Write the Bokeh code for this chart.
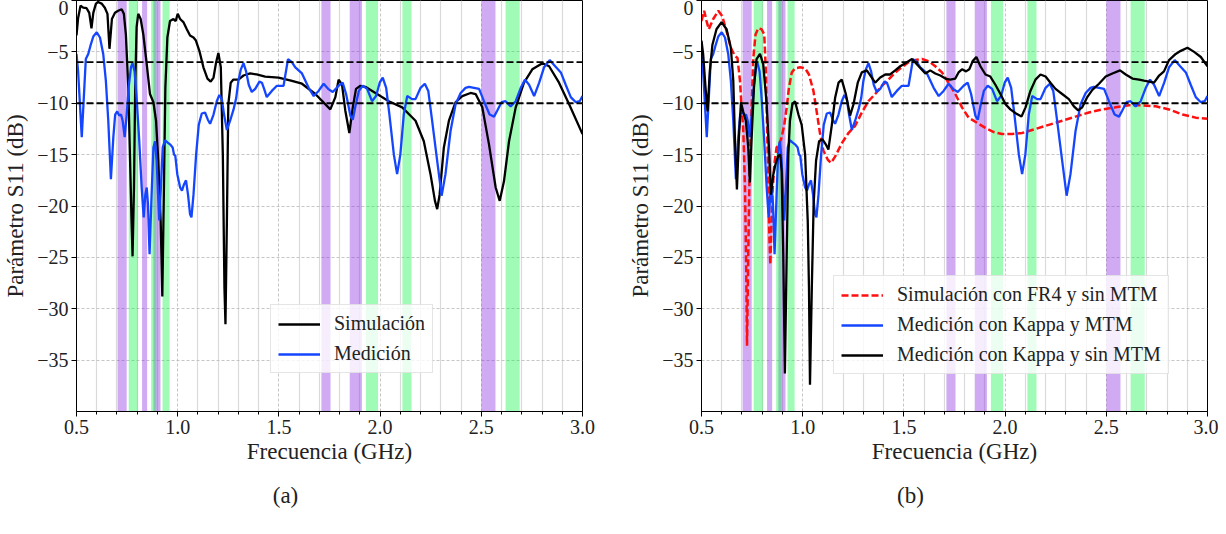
from bokeh.plotting import figure
from bokeh.models import Span, FixedTicker, Range1d, Spacer, LinearAxis
from bokeh.layouts import row, column
from bokeh.core.properties import value
from bokeh.embed import file_html
from bokeh.resources import INLINE

FONT = "Liberation Serif"

# ---------------- data ----------------
# Panel (a): simulation
sim_f = [0.500, 0.508, 0.520, 0.533, 0.550, 0.563, 0.574, 0.583, 0.596, 0.607,
         0.624, 0.640, 0.653, 0.663, 0.675, 0.690, 0.706, 0.723, 0.734, 0.744,
         0.756, 0.764, 0.772, 0.777, 0.784, 0.790, 0.797, 0.805, 0.817, 0.830,
         0.847, 0.863, 0.880, 0.893, 0.904, 0.916, 0.924, 0.932, 0.939, 0.949,
         0.962, 0.979, 0.990, 1.000, 1.012, 1.028, 1.045, 1.061, 1.078, 1.090,
         1.107, 1.127, 1.147, 1.163, 1.177, 1.190, 1.201, 1.213, 1.223, 1.231,
         1.236, 1.243, 1.250, 1.262, 1.275, 1.300, 1.325, 1.358, 1.390, 1.432,
         1.498, 1.560, 1.614, 1.680, 1.754, 1.779, 1.795, 1.812, 1.828, 1.848,
         1.865, 1.881, 1.903, 1.927, 1.977, 2.043, 2.109, 2.175, 2.216, 2.249,
         2.271, 2.282, 2.294, 2.315, 2.340, 2.373, 2.406, 2.447, 2.472, 2.505,
         2.538, 2.571, 2.591, 2.612, 2.637, 2.670, 2.711, 2.752, 2.802, 2.835,
         2.884, 2.934, 3.000]
sim_db = [-3.4, -1.7, -0.5, -0.7, -0.75, -1.2, -2.7, -1.2, -0.3, -0.15,
          -0.3, -0.7, -1.3, -4.7, -1.8, -1.2, -1.0, -0.85, -1.3, -3.3,
          -8.5, -15.0, -21.5, -24.9, -18.2, -8.5, -2.6, -1.3, -1.8, -3.3,
          -6.2, -9.1, -9.9, -11.7, -15.6, -21.5, -28.8, -18.2, -8.5, -3.6,
          -2.0, -1.8, -2.0, -1.3, -1.8, -2.1, -2.8, -3.4, -3.6, -3.9,
          -4.9, -6.5, -7.6, -7.9, -7.5, -6.0, -5.1, -6.5, -15.0, -28.0,
          -31.5, -21.5, -10.1, -8.0, -7.7, -7.7, -7.3, -7.1, -7.2, -7.4,
          -7.5, -7.8, -8.1, -9.1, -10.6, -9.4, -7.7, -8.2, -10.7, -12.9,
          -10.4, -8.6, -8.3, -8.4, -9.0, -9.8, -10.4, -11.7, -13.7, -16.9,
          -19.5, -20.3, -18.9, -14.3, -11.7, -9.9, -9.3, -9.0, -9.1, -10.4,
          -14.0, -18.2, -19.5, -17.6, -13.7, -10.4, -8.0, -6.7, -6.1, -6.4,
          -8.0, -10.1, -13.0]

# Measurement with Kappa and MTM (both panels)
meas_f = [0.500, 0.508, 0.517, 0.526, 0.536, 0.546, 0.558, 0.569, 0.583, 0.600,
          0.616, 0.632, 0.645, 0.657, 0.670, 0.682, 0.691, 0.701, 0.711, 0.720,
          0.728, 0.738, 0.748, 0.759, 0.769, 0.777, 0.787, 0.797, 0.809, 0.822,
          0.832, 0.840, 0.847, 0.853, 0.861, 0.871, 0.880, 0.888, 0.896, 0.903,
          0.909, 0.917, 0.926, 0.937, 0.949, 0.962, 0.975, 0.982, 0.988, 0.998,
          1.012, 1.021, 1.031, 1.041, 1.051, 1.061, 1.068, 1.078, 1.091, 1.104,
          1.119, 1.135, 1.149, 1.160, 1.177, 1.193, 1.206, 1.218, 1.229, 1.243,
          1.259, 1.276, 1.289, 1.300, 1.312, 1.325, 1.338, 1.351, 1.366, 1.383,
          1.404, 1.416, 1.427, 1.440, 1.465, 1.490, 1.523, 1.545, 1.564, 1.581,
          1.614, 1.647, 1.672, 1.696, 1.721, 1.743, 1.766, 1.795, 1.815, 1.832,
          1.853, 1.865, 1.878, 1.895, 1.914, 1.936, 1.960, 1.980, 1.998, 2.013,
          2.030, 2.046, 2.068, 2.084, 2.100, 2.117, 2.134, 2.158, 2.175, 2.200,
          2.221, 2.238, 2.257, 2.282, 2.304, 2.323, 2.348, 2.373, 2.398, 2.422,
          2.439, 2.464, 2.489, 2.513, 2.541, 2.563, 2.579, 2.600, 2.620, 2.645,
          2.670, 2.695, 2.716, 2.736, 2.761, 2.786, 2.810, 2.838, 2.865, 2.893,
          2.917, 2.942, 2.967, 2.986, 3.000]
meas_db = [-5.2, -6.9, -10.1, -13.3, -9.5, -5.7, -5.2, -4.4, -3.5, -3.1,
           -3.6, -5.2, -7.8, -11.7, -17.4, -13.3, -11.1, -10.8, -11.2, -11.1,
           -11.7, -13.3, -11.1, -8.2, -6.5, -6.1, -6.9, -9.5, -13.3, -18.2,
           -21.1, -18.9, -18.2, -19.8, -24.7, -18.9, -14.3, -13.7, -15.6, -18.9,
           -21.4, -18.2, -14.3, -13.6, -13.8, -14.0, -14.3, -15.0, -15.1, -16.9,
           -18.2, -18.5, -17.9, -17.5, -18.9, -20.8, -21.1, -18.9, -15.0, -12.1,
           -11.0, -10.9, -11.6, -12.0, -11.1, -9.8, -9.2, -9.6, -11.1, -12.6,
           -11.7, -10.6, -9.5, -7.8, -6.7, -6.1, -6.9, -8.2, -8.9, -8.6,
           -7.9, -8.0, -8.6, -9.4, -8.8, -8.3, -8.3, -5.7, -6.0, -6.5,
           -7.1, -8.5, -9.3, -8.8, -8.1, -8.6, -8.9, -8.3, -8.0, -9.1,
           -11.2, -11.6, -10.3, -8.8, -8.3, -8.6, -9.8, -9.3, -8.0, -7.5,
           -8.5, -11.1, -15.0, -16.9, -15.0, -11.1, -9.3, -9.6, -9.6, -8.5,
           -8.1, -8.8, -11.7, -15.6, -19.0, -16.9, -12.7, -10.1, -9.0, -8.5,
           -8.4, -8.5, -8.6, -9.8, -11.1, -11.3, -10.7, -9.9, -9.8, -10.3,
           -9.8, -8.5, -7.7, -8.2, -9.3, -8.0, -6.5, -5.8, -6.4, -7.0,
           -8.2, -9.4, -9.9, -9.8, -9.3]

# Panel (b): simulation with FR4 and without MTM
fr4_f = [0.500, 0.513, 0.525, 0.536, 0.558, 0.583, 0.602, 0.624, 0.645, 0.665,
         0.678, 0.690, 0.698, 0.706, 0.715, 0.721, 0.725, 0.731, 0.739, 0.748,
         0.756, 0.767, 0.781, 0.797, 0.810, 0.818, 0.827, 0.835, 0.840, 0.850,
         0.860, 0.871, 0.884, 0.896, 0.909, 0.921, 0.932, 0.946, 0.962, 0.987,
         1.012, 1.031, 1.053, 1.069, 1.086, 1.102, 1.124, 1.140, 1.160, 1.193,
         1.226, 1.259, 1.292, 1.325, 1.358, 1.391, 1.424, 1.457, 1.490, 1.523,
         1.556, 1.589, 1.622, 1.655, 1.688, 1.721, 1.754, 1.787, 1.820, 1.861,
         1.903, 1.944, 1.985, 2.035, 2.084, 2.150, 2.216, 2.282, 2.348, 2.414,
         2.480, 2.546, 2.612, 2.678, 2.744, 2.810, 2.876, 2.942, 3.000]
fr4_db = [-2.0, -1.0, -2.0, -2.8, -1.8, -1.0, -1.5, -3.0, -4.6, -5.4,
          -5.6, -7.8, -10.4, -12.4, -18.2, -26.3, -33.6, -24.7, -15.0, -10.1,
          -5.6, -3.3, -2.7, -2.8, -3.3, -6.9, -15.0, -22.8, -25.7, -18.9,
          -15.9, -14.3, -14.0, -13.3, -12.1, -10.4, -8.5, -7.0, -6.6, -6.5,
          -6.6, -7.2, -8.8, -10.8, -13.0, -14.6, -15.5, -15.8, -15.2, -13.9,
          -12.9, -12.2, -10.9, -9.8, -9.1, -8.3, -7.7, -7.0, -6.5, -6.0,
          -5.8, -5.7, -5.9, -6.4, -7.0, -8.0, -9.1, -10.4, -11.4, -11.9,
          -12.4, -12.8, -13.0, -13.0, -12.9, -12.5, -12.1, -11.7, -11.3, -10.9,
          -10.6, -10.4, -10.2, -10.2, -10.3, -10.6, -11.1, -11.4, -11.5]

# Panel (b): measurement with Kappa and without MTM
nomtm_f = [0.500, 0.508, 0.520, 0.530, 0.541, 0.554, 0.574, 0.599, 0.624, 0.645,
           0.657, 0.665, 0.675, 0.685, 0.695, 0.706, 0.719, 0.731, 0.739, 0.748,
           0.759, 0.772, 0.789, 0.805, 0.822, 0.835, 0.843, 0.855, 0.866, 0.880,
           0.889, 0.896, 0.904, 0.912, 0.921, 0.929, 0.937, 0.949, 0.962, 0.979,
           0.995, 1.012, 1.025, 1.031, 1.036, 1.045, 1.054, 1.066, 1.081, 1.097,
           1.114, 1.127, 1.144, 1.160, 1.177, 1.193, 1.213, 1.234, 1.251, 1.272,
           1.292, 1.317, 1.358, 1.383, 1.408, 1.432, 1.457, 1.482, 1.507, 1.540,
           1.573, 1.606, 1.630, 1.655, 1.680, 1.705, 1.729, 1.754, 1.770, 1.787,
           1.807, 1.823, 1.840, 1.858, 1.878, 1.903, 1.927, 1.952, 1.977, 2.002,
           2.026, 2.054, 2.081, 2.101, 2.125, 2.150, 2.175, 2.200, 2.224, 2.249,
           2.282, 2.315, 2.340, 2.361, 2.381, 2.406, 2.431, 2.464, 2.497, 2.530,
           2.568, 2.596, 2.629, 2.662, 2.686, 2.711, 2.736, 2.761, 2.785, 2.810,
           2.843, 2.868, 2.901, 2.934, 2.967, 3.000]
nomtm_db = [-3.9, -5.2, -8.5, -10.8, -6.9, -4.3, -2.8, -2.1, -2.8, -4.6,
            -7.8, -13.3, -18.4, -13.3, -9.9, -10.8, -11.7, -14.3, -17.7, -13.3,
            -8.5, -5.7, -5.2, -6.2, -10.1, -15.0, -18.9, -16.9, -15.9, -15.1,
            -15.0, -16.6, -24.7, -36.3, -24.7, -15.0, -11.7, -10.1, -9.8, -11.1,
            -12.1, -15.0, -21.5, -28.0, -37.4, -28.0, -19.8, -15.6, -13.7, -13.5,
            -14.0, -14.5, -12.1, -9.5, -8.0, -7.7, -9.1, -11.2, -10.1, -8.0,
            -7.0, -6.8, -8.0, -7.5, -7.2, -7.2, -6.8, -6.4, -6.1, -5.7,
            -6.4, -7.1, -6.8, -7.1, -7.3, -7.6, -7.7, -7.6, -7.0, -6.7,
            -6.9, -6.7, -5.9, -5.5, -6.4, -7.2, -7.4, -8.2, -9.1, -10.1,
            -10.6, -11.0, -11.3, -10.4, -8.8, -7.7, -7.2, -7.4, -8.0, -8.6,
            -9.1, -9.6, -10.3, -10.7, -10.4, -9.4, -8.7, -8.1, -7.4, -7.1,
            -6.8, -7.2, -7.6, -7.7, -7.8, -7.9, -8.0, -7.3, -6.9, -5.8,
            -5.2, -4.9, -4.6, -5.0, -5.5, -6.4]

# Shaded bands (GHz): uplink (purple) and downlink (green)
uplink_lo = [0.703, 0.824, 0.880, 1.710, 1.850, 2.500]
uplink_hi = [0.748, 0.849, 0.915, 1.755, 1.910, 2.570]
downlink_lo = [0.758, 0.869, 0.925, 1.930, 2.110, 2.620]
downlink_hi = [0.803, 0.894, 0.960, 1.990, 2.155, 2.690]

thresholds = [-6, -10]
x_ticks = [0.5, 1.0, 1.5, 2.0, 2.5, 3.0]
x_minor = [0.6, 0.7, 0.8, 0.9, 1.1, 1.2, 1.3, 1.4, 1.6, 1.7, 1.8, 1.9,
           2.1, 2.2, 2.3, 2.4, 2.6, 2.7, 2.8, 2.9]
y_ticks = [0, -5, -10, -15, -20, -25, -30, -35]
x_range = (0.5, 3.0)
y_range = (-40, 0)
captions = ["(a)", "(b)"]

BLUE = "#1546FF"
PURPLE = "#8A2BE2"
GREEN = "#12F54A"


def make_panel(border_left, border_right):
    p = figure(frame_width=506, frame_height=411, output_backend="svg",
               toolbar_location=None, title_location=None,
               x_range=Range1d(*x_range), y_range=Range1d(*y_range),
               min_border_left=border_left, min_border_right=border_right,
               min_border_top=0, min_border_bottom=0)
    p.background_fill_color = "white"
    p.border_fill_color = "white"
    p.outline_line_color = "black"
    p.outline_line_width = 1
    p.outline_line_alpha = 1

    xa = p.below[0]
    ya = p.left[0]
    xt = FixedTicker(ticks=x_ticks, minor_ticks=x_minor)
    yt = FixedTicker(ticks=y_ticks, minor_ticks=[])
    xa.ticker = xt
    ya.ticker = yt
    p.xgrid.ticker = xt
    p.ygrid.ticker = yt
    xa.major_label_overrides = {t: f"{t:.1f}" for t in x_ticks}
    ya.major_label_overrides = {t: ("0" if t == 0 else "\u2212" + str(abs(t))) for t in y_ticks}

    for ax in (xa, ya):
        ax.axis_line_color = "black"
        ax.major_tick_line_color = "black"
        ax.minor_tick_line_color = "black"
        ax.major_tick_out = 5
        ax.major_tick_in = 0
        ax.minor_tick_out = 3
        ax.minor_tick_in = 0
        ax.major_label_text_font = FONT
        ax.major_label_text_font_size = "20px"
        ax.major_label_text_color = "#222222"
        ax.major_label_standoff = 3
        ax.axis_label_text_font = FONT
        ax.axis_label_text_font_size = "23px"
        ax.axis_label_text_font_style = "normal"
        ax.axis_label_text_color = "#222222"
    xa.axis_label = "Frecuencia (GHz)"
    xa.axis_label_standoff = 2
    ya.axis_label = "Parámetro S11 (dB)"
    ya.axis_label_standoff = 6

    # empty axis above (no ticks, no labels): reserves head-room for the "0" tick label
    head = LinearAxis(ticker=FixedTicker(ticks=[], minor_ticks=[]),
                      major_tick_out=5, major_tick_in=0, minor_tick_out=0, minor_tick_in=0,
                      major_label_standoff=0, axis_line_color=None,
                      major_tick_line_color=None, minor_tick_line_color=None)
    p.add_layout(head, "above")

    p.xgrid.grid_line_color = "#b8b8b8"
    p.xgrid.grid_line_dash = "3 2"
    p.xgrid.grid_line_width = 0.8
    p.xgrid.minor_grid_line_color = "#dadada"
    p.xgrid.minor_grid_line_width = 1.2
    p.ygrid.grid_line_color = "#b8b8b8"
    p.ygrid.grid_line_dash = "3 2"
    p.ygrid.grid_line_width = 0.8

    p.quad(left=uplink_lo, right=uplink_hi, bottom=y_range[0], top=y_range[1],
           fill_color=PURPLE, fill_alpha=0.4, line_alpha=0)
    p.quad(left=downlink_lo, right=downlink_hi, bottom=y_range[0], top=y_range[1],
           fill_color=GREEN, fill_alpha=0.4, line_alpha=0)

    for t in thresholds:
        p.add_layout(Span(location=t, dimension="width", line_color="black",
                          line_width=1.8, line_dash="7 3"))
    return p


def style_legend(p, loc):
    lg = p.legend[0]
    lg.location = loc
    lg.label_text_font = FONT
    lg.label_text_font_size = "20px"
    lg.label_text_color = "#222222"
    lg.glyph_width = 42
    lg.glyph_height = 20
    lg.label_height = 20
    lg.label_standoff = 14
    lg.spacing = 7
    lg.padding = 7
    lg.margin = 0
    lg.border_line_color = "#cccccc"
    lg.border_line_width = 1
    lg.background_fill_alpha = 0.8


def make_caption(width, text):
    c = figure(frame_width=width, frame_height=42, output_backend="svg",
               toolbar_location=None, title_location=None,
               x_axis_location=None, y_axis_location=None,
               x_range=Range1d(0, 1), y_range=Range1d(0, 1),
               min_border=0, outline_line_color=None)
    c.grid.visible = False
    c.text(x=[0.5], y=[0.3], text=[text], text_align="center", text_baseline="middle",
           text_font=value(FONT), text_font_size="23px", text_color="#222222")
    return c


# Panel (a)
pa = make_panel(67, 40)
pa.line(sim_f, sim_db, line_color="black", line_width=2.3, legend_label="Simulación")
pa.line(meas_f, meas_db, line_color=BLUE, line_width=2.3, legend_label="Medición")
style_legend(pa, (194, 38))

# Panel (b)
pb = make_panel(79, 11)
pb.line(fr4_f, fr4_db, line_color="#FF1010", line_width=2.5, line_dash="7 3",
        legend_label="Simulación con FR4 y sin MTM")
pb.line(meas_f, meas_db, line_color=BLUE, line_width=2.3,
        legend_label="Medición con Kappa y MTM")
pb.line(nomtm_f, nomtm_db, line_color="black", line_width=2.3,
        legend_label="Medición con Kappa y sin MTM")
style_legend(pb, (132, 37))

cap_a = make_caption(570, captions[0])
cap_b = make_caption(600, captions[1])

layout = column(row(pa, pb), row(cap_a, Spacer(width=40, height=42), cap_b))
open("out.html", "w").write(file_html(layout, INLINE))
